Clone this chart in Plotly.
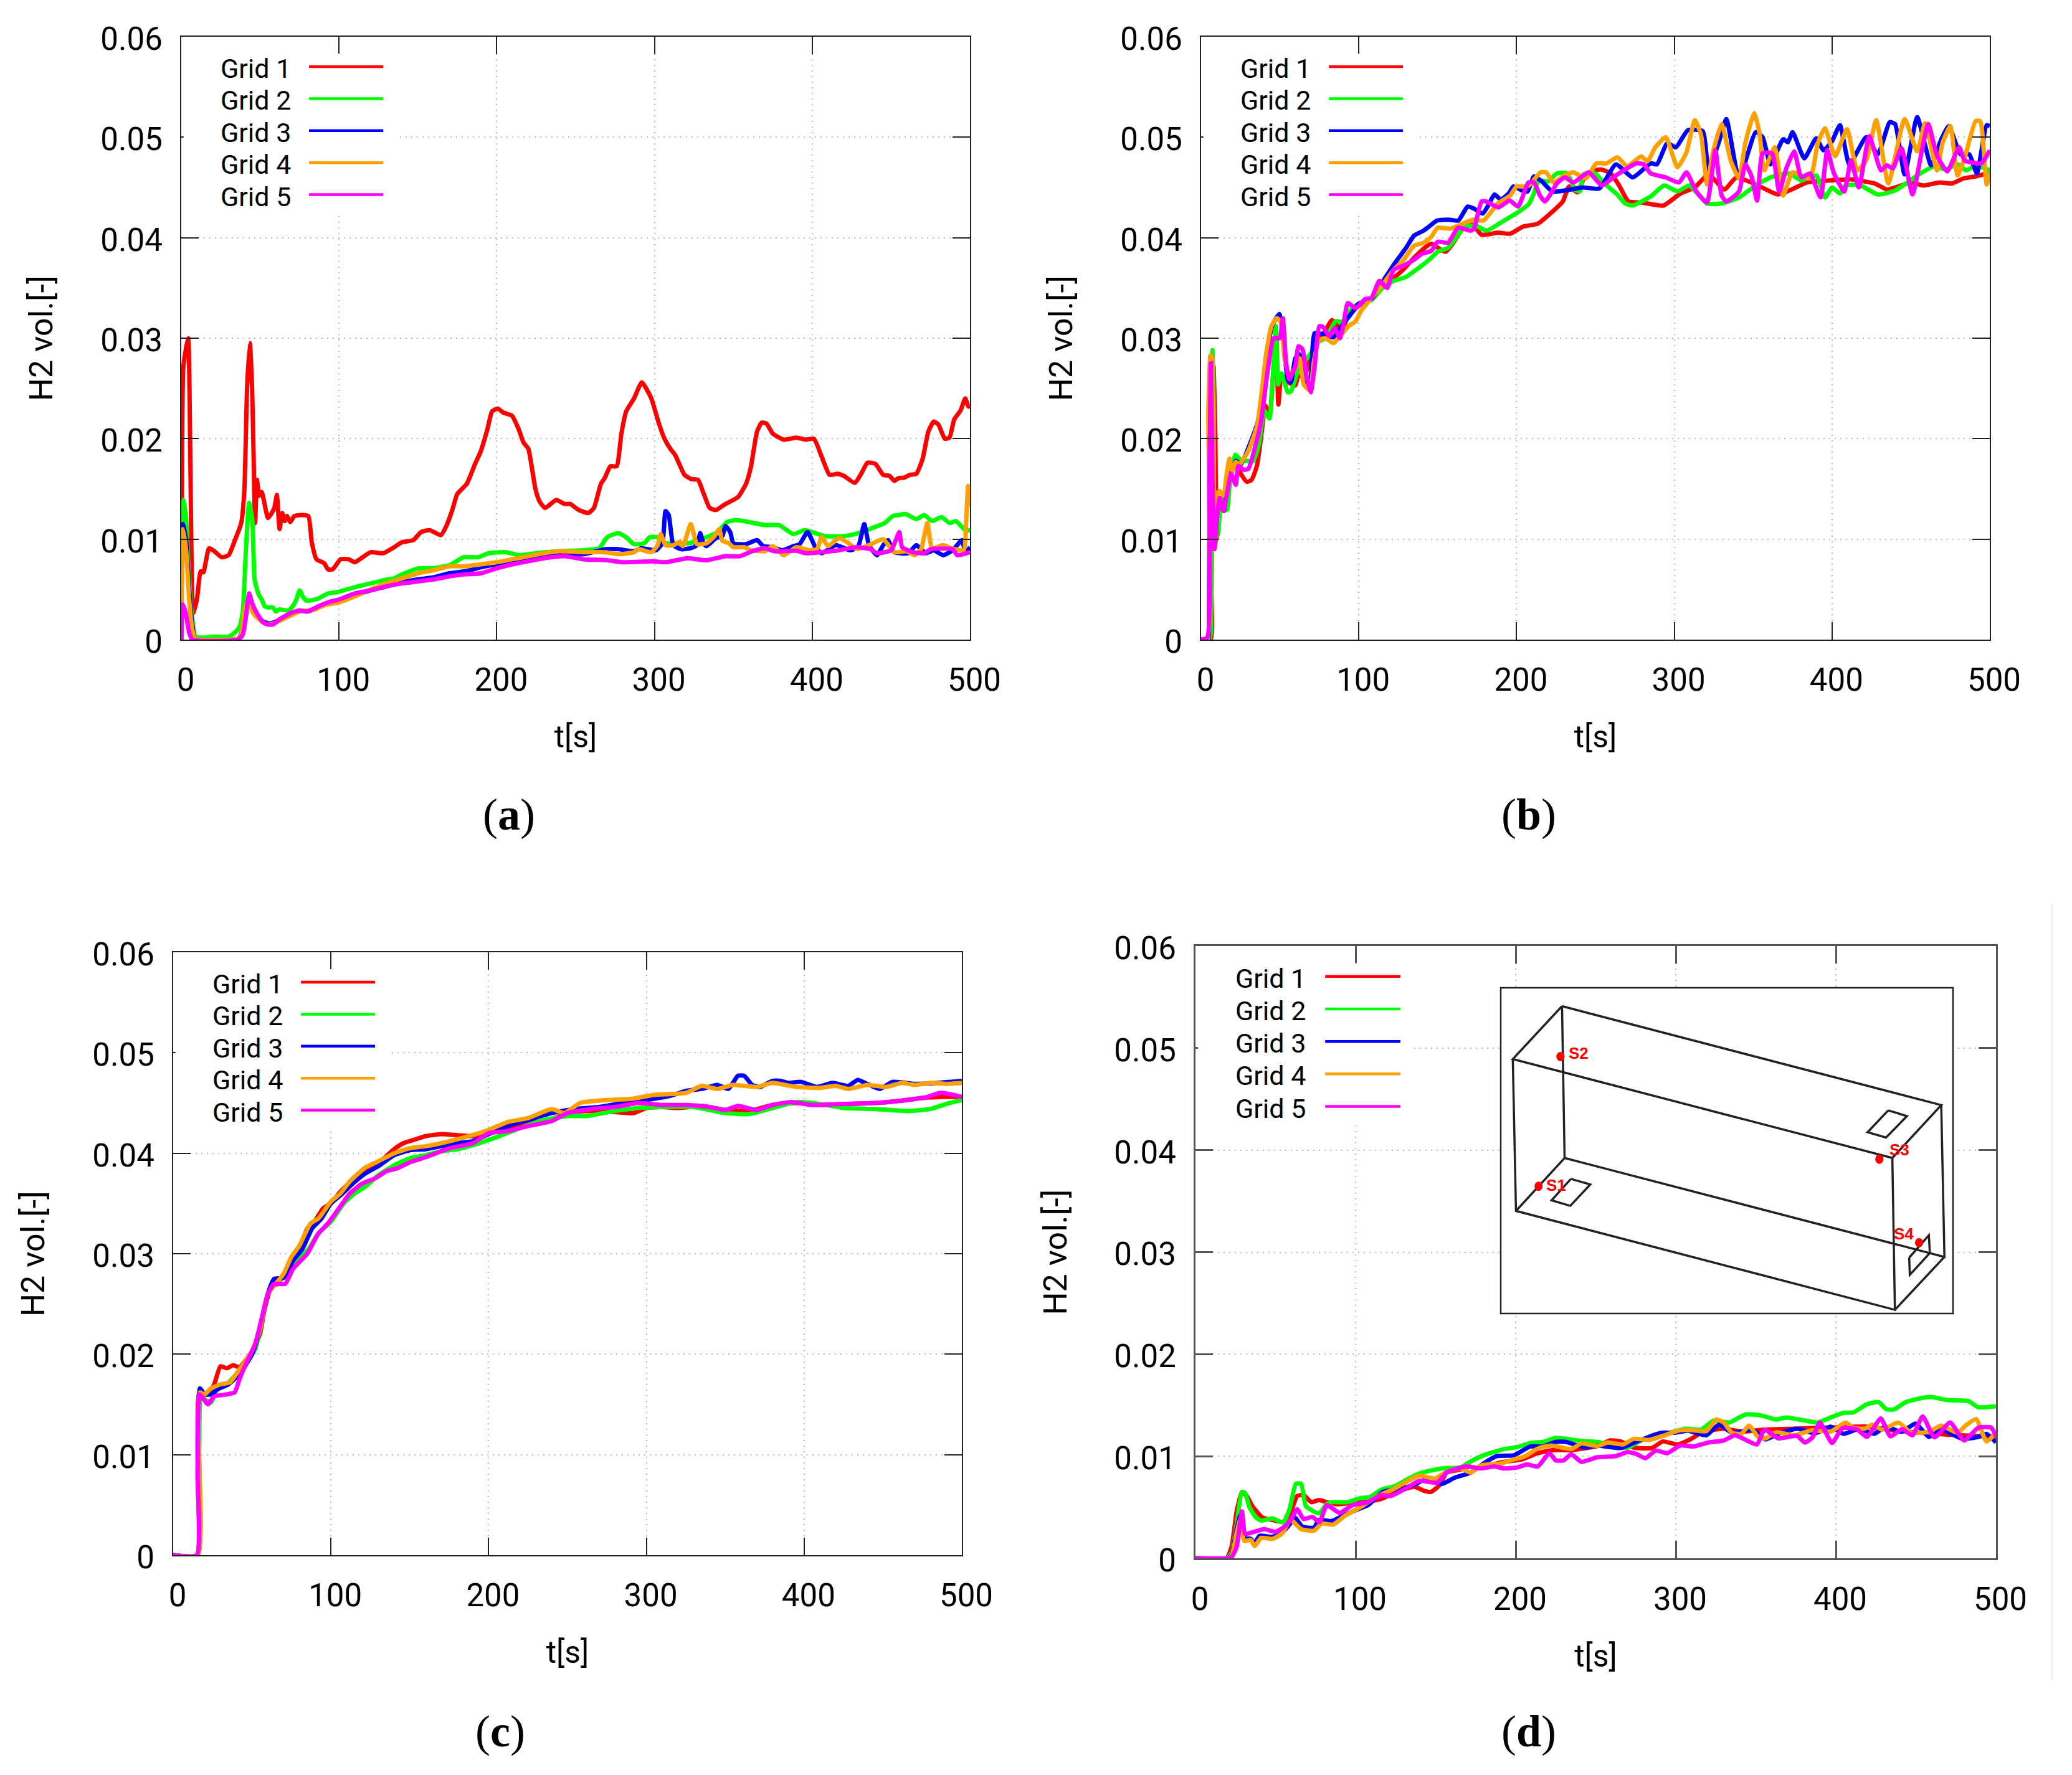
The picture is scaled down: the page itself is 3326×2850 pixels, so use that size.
import plotly.graph_objects as go

# H2 volume fraction, (t [s], vol * 1000)
a_grid1 = [(0,0),(0.4,14),(1.2,26.9),(3,29),(4.4,30),(5.2,25),(5.8,17),(7.6,2.6),(10,4.1),(12.3,6.8),(14,6.7),(17.6,9.1),(21,8.8),(25.5,8.2),(30,8.4),(34,9.9),(38,11.6),(40,14.9),(41.7,25),(43.5,29.5),(44.9,25),(45.8,18.6),(46.8,11.6),(48,15.9),(49.3,14.3),(51,14.7),(55,12.1),(59,13.1),(60.6,14.4),(62.3,11),(64,12.6),(65.5,11.8),(67,12.3),(69,11.7),(71.7,12.3),(75.7,12.4),(80.5,12.3),(82.7,9.7),(85.7,8),(90.6,7.6),(93,7),(96,7),(101,8),(106,8),(110,7.7),(115,8.2),(120,8.7),(128,8.6),(135,9.2),(140,9.7),(147,9.9),(152,10.7),(157.5,10.9),(164.6,10.4),(168,11.3),(171.6,12.8),(175,14.5),(181,15.5),(186,17.4),(190,18.8),(194,20.9),(197,22.7),(200.7,23),(204,22.6),(209.5,22.3),(214,20.9),(217,19.6),(220,19),(224.5,15),(227,13.8),(230.6,13.1),(237.7,13.9),(243,13.5),(246.5,13.5),(252,12.9),(258,12.6),(261.6,13.1),(266,15.5),(268.5,16.1),(272,17.25),(276,17.25),(279,20.5),(282,22.7),(287,24),(292,25.6),(298,24),(302.6,21.6),(306.3,20),(310,19),(313,18.4),(319,16.4),(323,16),(327.6,15.9),(331,14.6),(335,13.1),(339,12.9),(345,13.5),(353,14.2),(358,15.5),(361,17.1),(365,20.7),(368,21.6),(371,21.5),(375,20.5),(382,19.9),(390,20.1),(396,19.9),(401,20),(406,18.2),(411,16.4),(416,16.5),(420,16.3),(427,15.6),(431,16.5),(435,17.6),(440,17.5),(445,16.4),(449,16.3),(452,15.8),(455,16.1),(458,16.1),(462,16.4),(466,16.5),(470,18),(473.6,20.7),(477,21.7),(480,21.4),(484,20),(487,20.1),(490,21.9),(494,22.8),(497,24),(499,23.2),(500,23.2)]
a_grid2 = [(0,0),(1.5,13.9),(3,12),(5,6),(7,2),(9,0.3),(15,0.2),(20,0.3),(30,0.3),(34,0.7),(37,1.3),(39,2.8),(41,9),(43,13.6),(45,12),(46.5,6),(49,4.5),(51,4),(53,3.3),(55,3.2),(58,3.2),(60,2.8),(62,3),(68,2.9),(71,3.4),(73,4),(75,4.9),(77,4.3),(79,3.9),(82,3.9),(87,4.1),(93,4.6),(98,4.7),(105,5),(112,5.3),(120,5.6),(128,5.9),(135,6.1),(140,6.5),(150.5,7.1),(159,7.1),(170,7.4),(179,8.2),(188,8.2),(195,8.6),(206,8.7),(214,8.4),(225,8.6),(239,8.8),(255,8.9),(265,9.1),(270,10.2),(277,10.6),(282,10.2),(287,9.5),(293.5,9.6),(297,10.2),(302,10.2),(307,9.6),(322,9.6),(333,10.2),(340,10.7),(346,11.7),(352,11.9),(360,11.7),(370,11.4),(379,11.4),(388,10.5),(395,10.9),(402,10.6),(408,10.3),(420,10.3),(427,10.5),(438,11.1),(446,11.6),(451,12.3),(455,12.4),(459,12.5),(466,12),(471,12.4),(476,11.8),(482,12.2),(487,11.6),(491,11.8),(497,10.9),(500,10.9)]
a_grid3 = [(0,0),(1,11.5),(3,10),(5,5),(7,1.5),(9,0.1),(36,0.1),(38,0.6),(41,3),(43,4),(45,3),(48,2.4),(52,1.8),(56,1.6),(60,1.8),(68,2.4),(75,2.9),(80,2.8),(90,3.4),(100,3.9),(110,4.4),(120,4.9),(130,5.3),(140,5.7),(150,6),(160,6.2),(170,6.6),(180,6.8),(190,7.2),(200,7.5),(210,7.7),(220,8.1),(230,8.3),(240,8.4),(255,8.5),(269,9),(277,9),(287,8.8),(291.5,9.1),(301,8.9),(305,9.6),(307,12.8),(309,12.4),(312,9.4),(317,9),(323,9.1),(327,9.4),(329,10.6),(331,9.6),(333,9.3),(339,10.1),(343,10.3),(345,11.3),(348,10.7),(350,9.6),(358,9.5),(365,9.9),(369,9.3),(375,9.2),(381,8.9),(388,9.3),(392,9.5),(397,10.7),(402,9.2),(406,8.6),(415,9.4),(424,8.9),(429,9.2),(433,11.5),(436,9.4),(441,8.4),(445,9.4),(448,9.9),(452,8.7),(461,8.6),(466,9.4),(472,8.6),(477,8.9),(483,8.4),(489,8.9),(495,9.9),(497,8.7),(500,9.2)]
a_grid4 = [(0,0),(1,11),(3,9),(5,4),(7,1),(9,0.1),(36,0.1),(38,0.5),(41,3.5),(43,3.7),(45,2.8),(48,2.2),(52,1.7),(56,1.5),(60,1.7),(68,2.3),(75,2.8),(85,3),(90,3.4),(100,3.7),(110,4.3),(120,5),(130,5.6),(140,6.1),(150,6.6),(160,6.9),(170,7.3),(180,7.3),(190,7.5),(200,7.7),(210,8),(220,8.3),(230,8.6),(240,8.8),(255,8.7),(269,8.7),(277,8.5),(287,8.7),(290,9),(298,8.7),(302,9.4),(304,10.5),(307,9.4),(312,9.4),(316,9.75),(318,9.3),(323,11.5),(327,9.5),(333,9.6),(338,10.3),(341,11),(343,9.85),(347,9.6),(350,9.2),(357,9.2),(361,8.9),(370,8.8),(375,9.3),(382,8.4),(390,9.2),(398,8.9),(403,9),(406,10.2),(410,9.3),(417,10.1),(423,9.6),(428,9),(436,9.4),(445,10),(452,8.7),(460,8.8),(465,8.4),(469,9),(473,11.6),(476,9.1),(483,9.4),(488,9.1),(496,8.9),(497.5,11.5),(498.8,15.3),(500,13.2)]
a_grid5 = [(0,0),(1,3.5),(3,2.5),(5,0.7),(7,0),(36,0),(39,0.5),(41,2.3),(43,4.6),(45,3.6),(48,2.6),(52,1.7),(55,1.5),(58,1.5),(62,2),(70,2.7),(75,2.9),(80,2.8),(88,3.4),(95,3.8),(100,4),(110,4.6),(120,4.9),(130,5.3),(140,5.6),(150,5.8),(160,6),(170,6.3),(180,6.5),(190,6.6),(200,7.1),(210,7.5),(220,7.8),(230,8.1),(243,8.3),(255,8),(270,7.9),(280,7.7),(299,7.8),(307,7.7),(321,8.1),(333,7.9),(345,8.3),(354,8.3),(362,8.8),(370,9.1),(376,8.8),(390,8.85),(396,8.6),(417,8.9),(428,9.2),(437,9),(441,8.6),(450,8.9),(453,9.9),(455.2,10.7),(457,9.2),(464,8.7),(471,8.6),(475,9),(489,9),(492,8.4),(500,8.7)]

b_grid1 = [(0,0),(6,0),(6.6,5),(7.9,27.2),(9,20.6),(9.8,10),(11.2,13.9),(15.8,14.3),(18.4,16.4),(22,17.5),(25.6,16.4),(29,15.7),(32,15.9),(35.4,17.3),(38,20.1),(40.7,23.3),(43.3,22.1),(46,27.2),(47.6,30.5),(49,23.4),(51,26.3),(54.4,25.7),(59.7,25.3),(61.7,26.3),(65.6,26.1),(68.2,27.7),(73.5,29.6),(79,30.8),(83,31.8),(89,30.8),(93,32.1),(99.7,33.2),(108,34),(115,35.3),(122,36),(128,36.8),(135,38),(141,38.9),(146,39.4),(151,38.9),(155,38.6),(159,39.3),(166,40.9),(172,41.3),(177.8,40.3),(188.4,40.5),(196,40.4),(204,41.1),(213.5,41.4),(221.4,42.4),(229.3,43.6),(233.3,45.1),(238.6,44.5),(243.9,46.3),(253,46.8),(259.7,46.4),(265,45.2),(271,43.6),(279.5,43.5),(293,43.2),(304,44.4),(313,45),(321.7,46.3),(331.7,44.8),(339.4,46),(351.6,45.3),(365.6,44.3),(373,44.7),(384.3,45.5),(399,45.7),(412,45.8),(427,45.4),(434.8,44.8),(444,45.2),(449.7,45.5),(458,45.2),(468.4,45.5),(476,45.4),(483.4,45.9),(491,46.1),(500,46.5)]
b_grid2 = [(0,0),(5,0),(6,0.5),(7.2,28.8),(8,23),(8.5,12),(10.5,10.4),(13,13.9),(16.4,12.9),(18.4,16),(21.6,18.4),(25,17.9),(28,17.8),(33,17.8),(36.7,19.5),(40,22.8),(43.3,22),(45,25),(47.5,31.2),(48.8,25.4),(51,26.5),(55,24.6),(57,24.7),(60.4,26.3),(63,27.2),(67.6,28.1),(71,28.8),(73.5,29.6),(79,30),(85.3,31.7),(89.3,31.6),(93,32.5),(98.4,33.3),(108,33.8),(115,35),(122,35.7),(130,36.1),(138,37),(143,37.6),(146,38),(150,38.6),(156.6,39),(163,40.3),(167,41.1),(174,41.2),(181,40.7),(190,41.5),(201.6,42.6),(208,43.4),(211,44.4),(214,45.7),(220,45.6),(225.5,46.4),(232,46.4),(237,44.8),(240,44.6),(242.5,46.3),(249,46.5),(255.7,45.4),(263.7,44.3),(269,43.4),(273.6,43.2),(285,44.1),(293.6,45.2),(302,44.6),(309.5,45.2),(320.7,43.4),(330,43.4),(341,44),(351.6,45.2),(361,46),(372.6,46.4),(380.6,45.7),(390,46.2),(395.5,44),(400,45),(405,44.4),(408.6,45.2),(418,45.2),(429,44.3),(440,44.7),(455,46.3),(464.7,47.1),(472,46.8),(479.6,47.3),(485,46.7),(491,47.2),(500,46.7)]
b_grid3 = [(0,0),(4.5,0),(5,2),(6,28.3),(8,12),(9,9.5),(11,14),(14.4,12.8),(16.4,15),(19,16.5),(22,17.8),(25,17.4),(31.5,19.7),(36,21.7),(39,24.5),(42,28.7),(45.2,31.3),(49.6,32.4),(52.5,29.4),(55,25.8),(57,25.6),(59.7,28),(62.3,28.4),(65.6,26.3),(69,25),(72,30.5),(77.4,30.4),(84,30.1),(89,31.2),(94.5,32.3),(99.7,33.4),(108,33.9),(115,35.6),(123,37.5),(130,39),(135,40.2),(141,40.7),(146,41.3),(149.5,41.7),(157.3,41.8),(163,41.7),(169,43.1),(173,42.9),(178.5,42.4),(182,43.2),(186,44.3),(190,43.8),(195,44.4),(198,45.1),(203.6,44.7),(207,44.6),(211,46.1),(216,45.6),(222.7,44.6),(230.6,44.7),(242,45),(252.5,44.9),(263,47.3),(273.6,46),(285,47.4),(289,47.3),(295.5,49.4),(301,49),(308.6,50.7),(318,50.6),(321.7,46.7),(328,49.4),(333,51.8),(341,45.9),(351.6,50.5),(356,50),(361,47.3),(369,49.8),(372,49.5),(375,50.5),(382.4,47.9),(390,49.9),(394.6,48.7),(400,49.6),(405,51.2),(411,47.3),(421.7,50),(429,48.3),(436.6,51.5),(440,51.3),(446,46.3),(454,52),(462.8,47.2),(469,49.7),(474,51.1),(481.5,48.3),(487,48.3),(491.8,46.4),(498,51.2),(500,51.1)]
b_grid4 = [(0,0),(4,0),(4.6,23),(6,28.3),(7,28),(8,11.7),(9,9.3),(10.5,14.6),(11.8,14.8),(14.4,14.3),(15.8,16),(18,18),(19.7,16.8),(22,17.7),(24.3,17.4),(27,18),(30,18.8),(35.4,21.2),(38,24.1),(41.3,28.5),(44.6,31.2),(48,32),(50.5,31.6),(53,27.9),(55.8,26.5),(59,26.8),(62.4,28),(65,25.4),(69,24.8),(71.5,27.7),(74.8,29.8),(78.8,30),(84,29.5),(88,30.2),(93.5,31.2),(98,31.7),(101.4,32.7),(108,34),(115,35.3),(122,36.8),(128,37.7),(135,39.2),(141,39.5),(146,40.1),(150,41),(158,40.9),(166,41.4),(172.5,41.8),(179,41.7),(184,42.6),(188,43.4),(196,44.2),(200,45.1),(204,45.1),(208,45.2),(215,46.5),(218.8,46.5),(223.4,45.5),(230.6,46.2),(236,46.5),(244,45.9),(250.5,47.4),(257,47.4),(264,48),(270,47.1),(279,48.1),(283,47.6),(288,49),(294.6,50),(302,47),(307.7,48.5),(313,51.7),(317,50.2),(320.7,45.3),(324.5,48.5),(330,51.3),(335.7,47.7),(341,45.9),(345,49.4),(350.7,52.4),(354,50.4),(357,46.7),(363.7,49),(369,44.2),(375,46.5),(386,45.9),(391,49.4),(395.5,50.9),(402,48.1),(409.5,50.8),(416,46.7),(421.7,47.7),(428,51.7),(435.7,45.4),(446,51.8),(454,48.6),(459,51.4),(466.5,46.7),(470,49.4),(475,51.1),(479.6,46.2),(484,47.9),(491,51.6),(494,51.6),(498,45.3),(500,46.5)]
b_grid5 = [(0,0),(3.9,0.2),(5.3,16),(6.2,27.5),(7.2,16),(8.5,9),(9.8,11.7),(11.8,14.1),(14.2,12.8),(17,15),(19,16.5),(22,15.4),(23.6,17.3),(27,16.9),(30,17),(34.8,19.5),(38,21.7),(42,26.5),(46,30),(49.8,30),(51.8,32),(53.8,27.7),(55.8,25.9),(59.7,27.2),(61.7,29.2),(64.3,28.9),(67,26.1),(69.5,24.6),(72,27.2),(75,31.2),(77.4,31.1),(81.3,30.2),(84.6,31),(88,30),(90.5,31.6),(93,33.5),(98,33),(104,33.9),(108,34),(113,35.7),(118,35),(122,36.8),(128,37.2),(135,37.8),(140,38.4),(146,38.7),(150,39.6),(156.6,39.5),(163,41),(171,40.7),(173,40.9),(177.8,43.6),(181,43.6),(188.4,43),(195.6,43.7),(201,43.1),(207.5,45.5),(211,45.5),(214.8,44.2),(218,43.6),(221.4,44.3),(225.5,45.4),(230.6,46),(236,45.5),(245.7,46.5),(254,45.2),(263,46.2),(276,47.4),(280.6,47.3),(285,46.4),(294.6,46),(303,45.5),(307.7,46.5),(314,44.6),(320.7,43.5),(326,48.7),(330,44.2),(333,43.6),(341,44.6),(345,47.3),(349,46.1),(352.5,43.7),(356,48.4),(361.9,48.4),(366.5,44.6),(371,46.9),(376,48.6),(380.6,46),(386,46.4),(392.7,44),(397,48.7),(401,46.5),(407.7,44.6),(412,47.7),(417,45),(423.6,50.1),(431,46.7),(434.8,47.2),(438.5,46.9),(444,48.9),(451,44.3),(457,48.7),(461,51.3),(466.5,48.2),(473,46.6),(480.6,49),(484,47.7),(494.6,47.4),(500,48.7)]

c_grid1 = [(0,0),(15,0),(15.5,8),(16.5,16.2),(19,16),(22,16),(26,17),(30,18.8),(34,18.6),(38,18.9),(42,18.7),(46,19.4),(50,20.3),(55,22),(58,24.5),(62,26.6),(66,27),(70,27.9),(75,29.5),(80,30.6),(85,32.5),(90,33.3),(95,34.5),(100,35),(105,36),(110,36.8),(115,37.6),(122,38.2),(128,38.7),(135,39.7),(140,40.4),(146,41),(152,41.3),(160,41.7),(170,41.9),(180,41.8),(190,41.7),(200,42),(210,42.5),(220,42.9),(230,43.1),(240,43.4),(250,44),(260,44.2),(270,44.2),(280,44.1),(292,44),(300,44.5),(310,44.6),(320,44.5),(335,44.7),(350,44.3),(365,44.2),(380,44.8),(395,45),(410,44.8),(425,44.9),(445,45),(460,45.2),(475,45.5),(490,45.6),(500,45.6)]
c_grid2 = [(0,0),(15.5,0),(16.5,10),(17.5,16),(20,15.5),(24,15.2),(28,16.5),(34,17),(40,18),(46,19),(52,20.5),(56,23),(60,26),(65,27),(72,28),(80,29.5),(86,30.5),(92,32),(100,33.2),(108,35),(115,36),(122,36.7),(130,37.8),(140,38.8),(150,39.5),(160,39.8),(170,40.2),(180,40.4),(190,40.8),(205,41.6),(220,42.5),(235,43.3),(250,43.7),(262,43.7),(280,44.2),(295,44.5),(310,44.6),(330,44.6),(350,44),(365,43.9),(380,44.5),(395,45.1),(410,44.9),(425,44.5),(445,44.4),(465,44.2),(480,44.4),(490,44.9),(500,45.3)]
c_grid3 = [(0,0),(15.5,0),(16,10),(17,16.6),(20,16),(24,16),(28,16.5),(35,17),(42,18),(50,20),(55,22.5),(60,26),(64,27.5),(70,27.6),(76,29.3),(82,30.5),(88,32.5),(94,33.5),(100,35),(106,35.8),(114,37),(122,38),(130,38.7),(140,39.8),(150,40.3),(160,40.4),(170,40.7),(180,41),(190,41.2),(200,41.9),(212,42.7),(225,43.3),(240,44),(255,44.4),(270,44.6),(285,45),(300,45.3),(315,45.7),(325,46.2),(335,46.4),(345,46.8),(352,46.4),(358,47.7),(362,47.7),(367,46.8),(372,46.6),(380,47.2),(385,47.2),(390,47),(398,47.1),(408,46.6),(418,47),(428,46.7),(434,47.3),(440,46.9),(448,46.4),(456,47.1),(470,46.9),(485,47),(500,47.2)]
c_grid4 = [(0,0),(15.5,0),(16,12),(17,16.2),(20,16),(24,16.6),(30,17),(36,17.2),(42,18.5),(50,20.3),(55,22.5),(60,26),(65,27),(70,28),(75,29.7),(80,30.8),(87,33),(92,33.5),(100,35.2),(106,36),(112,37.2),(122,38.6),(130,39.2),(140,40),(150,40.5),(160,40.7),(170,41),(185,41.6),(198,42.2),(212,43.1),(225,43.5),(240,44.4),(248,44),(258,45),(275,45.3),(290,45.4),(305,45.8),(325,46),(335,46.7),(345,46.4),(355,46.8),(370,46.6),(380,47),(395,46.6),(410,46.5),(420,46.7),(428,46.4),(440,46.8),(452,46.6),(462,47),(470,46.8),(480,47),(490,46.9),(500,47)]
c_grid5 = [(0,0),(15,0),(15.5,8),(16.5,16),(19,15.6),(22,15),(26,15.8),(34,16),(39,16.2),(42,17.5),(46,19),(52,21),(56,23.5),(60,26),(64,27),(71,27),(76,28.5),(85,30),(92,32),(98,33),(105,34.5),(112,36),(120,37),(128,37.5),(135,38.2),(142,38.5),(150,39.1),(158,39.5),(165,39.9),(175,40.5),(190,41),(200,42),(212,42.2),(225,42.7),(240,43.2),(250,44),(265,44.4),(280,44.6),(295,45),(310,44.8),(325,44.8),(340,44.6),(350,44.3),(358,44.7),(370,44.3),(380,44.8),(392,45.1),(405,44.8),(425,44.9),(445,45),(465,45.3),(478,45.6),(486,46),(495,45.8),(500,45.6)]

d_grid1 = [(0,0),(19.3,0),(22.5,1.1),(25.7,4.6),(29,6.5),(32,6.1),(36,5),(41.8,4),(48,3.75),(54.7,3.55),(58.7,4.2),(63.5,6.1),(67.5,6.2),(72.3,5.5),(77,5.7),(82,5.5),(88.4,5.3),(96.5,5.4),(104.5,5.5),(115.8,5.8),(125.4,6.5),(136.7,7),(143,6.6),(147,6.5),(152.7,7.2),(156.8,8.4),(165.6,8.7),(171,9),(175,8.8),(191,9.4),(204,9.7),(213.8,10.3),(223.5,10.6),(234.7,10.6),(251,11),(259,11.55),(265.5,11.45),(273.6,10.85),(284.9,10.8),(292,11.45),(301,11.15),(309,11.65),(317,12.4),(330,12.7),(341.6,12.4),(354.6,12.6),(374,12.7),(393.5,12.8),(419.4,12.9),(437,12.5),(461.6,12.2),(477.8,12.05),(500,11.9)]
d_grid2 = [(0,0),(19.3,0),(22.5,0.5),(25.7,3.3),(29,6.5),(31,6.4),(33.7,5),(37.8,4),(41,3.7),(48,3.9),(54.7,3.5),(58.7,4.8),(62.7,7.3),(66,7.3),(69,5.1),(77,4.4),(82,5.3),(85,5.5),(95,5.5),(103,5.9),(109,6),(115.8,6.7),(125,7.1),(133,7.8),(141.5,8.4),(154,8.8),(165.6,8.9),(172,9.5),(181.7,10.2),(193,10.7),(201,10.9),(209,11.3),(217,11.4),(225,11.8),(231.5,11.7),(241,11.5),(251,11.4),(260.6,11),(270,10.85),(277.6,11.5),(286.6,12.1),(296,12.3),(306,12.7),(315.7,12.6),(323.8,13.5),(333.5,13.3),(338.4,13.7),(344,14.1),(353,14),(362.7,13.6),(369,13.8),(380.6,13.5),(388.6,13.3),(396.7,13.8),(404.8,14.25),(411,14.3),(419.4,15.1),(426.7,15.3),(431.5,14.6),(436.4,14.6),(443.7,15.3),(453.4,15.7),(460,15.8),(469.7,15.5),(482.7,15.4),(489,14.8),(500,14.9)]
d_grid3 = [(0,0),(20,0),(22.5,0.3),(25.7,2.9),(28,4.2),(30.5,2),(34.5,1.9),(37,1.5),(40,2.2),(48,2.1),(53.9,2.5),(58.7,3.3),(62,4),(66.7,3.1),(74,3),(77,3.75),(85,3.65),(90,4),(99.7,4.7),(107.7,5.2),(117,6.5),(127,6.8),(136.7,7.2),(143,7.7),(154,7.3),(162,7.9),(172,8.4),(180,9.3),(188,10),(199,10.1),(209,10.95),(217,10.95),(225,11.4),(231.5,11.4),(243,10.85),(251,11.05),(265.5,10.8),(275,11.4),(291,12.3),(299.5,12.3),(307.6,12.5),(319,12.05),(327,13.1),(335,12.3),(348,12.6),(356,11.65),(364,12.2),(375.7,12.7),(387,12.25),(396.7,12.9),(404.8,12.2),(414.6,12.7),(424,12.2),(431,12.9),(441,12.4),(449.8,13.2),(458,11.9),(466,12.6),(479,11.7),(489,11.9),(494,12.2),(500,11.35)]
d_grid4 = [(0,0),(20,0),(22.5,0.2),(25.7,2.5),(28,3.8),(30.5,1.7),(34.5,1.8),(37,1.2),(41,2),(48,1.9),(53.9,2.4),(59.5,3.75),(66,2.85),(74,2.7),(78.8,3.4),(86,3.3),(93.2,4.15),(103,5),(114,6.1),(124,6.8),(133,7.6),(140,8.1),(149.5,7.8),(156,8.4),(165.6,8.8),(172,8.4),(178.5,9.1),(191,9.3),(199,9.7),(205.8,10),(213.8,10.75),(222,11.05),(234.7,10.7),(241,11.25),(251,11),(257.5,11.35),(267,11.15),(273.6,11.7),(283.4,11.6),(293,12.05),(302.8,12.55),(310.9,12.55),(319,12.45),(325.4,13.6),(330,13.3),(335,12.3),(341,12.2),(345.7,13),(351.4,11.9),(356,11.75),(362.7,12.35),(374,12.05),(385,12.55),(396.7,12.4),(406,13.3),(410.6,12.8),(418,12.7),(422.7,13.1),(429,12.6),(439,13.3),(447,12.3),(458.3,12.4),(465.7,13),(476,12.3),(481,13),(487.6,13.65),(494,11.45),(500,12.3)]
d_grid5 = [(0,0),(20,0),(22.5,0.1),(25.7,1.1),(29,4.6),(31,2.4),(34.5,2.5),(43,2.85),(50,2.6),(56,3.15),(60,3.9),(63.5,4.8),(67.5,3.85),(73,4.05),(77.5,3.55),(82,5.2),(90,4.45),(98,5.2),(107.7,5.5),(115.8,6.2),(122,6.1),(132,6.9),(140,7.6),(151,7.4),(156.8,8.4),(168.8,9),(178.5,8.8),(186.5,9),(193,8.8),(201,8.9),(207,9.2),(213.8,9),(221,10.3),(225,9.6),(230,9.6),(234.7,10.2),(241,9.45),(251,9.9),(262,10),(270,10.4),(275,10.25),(281,9.8),(287.4,10.55),(294.7,10.3),(302.8,11.05),(310.9,10.95),(320.6,11.35),(330,11.55),(337,12.05),(343,11.65),(350.6,11.15),(355.5,12.6),(364,11.75),(375.7,12),(380.6,11.35),(385.4,11.85),(390,13.3),(397.6,11.3),(404,12.75),(413,12.65),(419.4,11.9),(428,13.7),(434,11.95),(441.3,12.65),(447.8,12.05),(454.2,13.9),(461.6,11.85),(471.3,13.3),(480,11.55),(489,12.8),(497,12.8),(500,11.95)]

series_names = ["Grid 1", "Grid 2", "Grid 3", "Grid 4", "Grid 5"]
series_colors = ["#ff0000", "#00ff00", "#0000ff", "#ffa000", "#ff00ff"]
panel_a = [a_grid1, a_grid2, a_grid3, a_grid4, a_grid5]
panel_b = [b_grid1, b_grid2, b_grid3, b_grid4, b_grid5]
panel_c = [c_grid1, c_grid2, c_grid3, c_grid4, c_grid5]
panel_d = [d_grid1, d_grid2, d_grid3, d_grid4, d_grid5]
panels = [panel_a, panel_b, panel_c, panel_d]
captions = ["a", "b", "c", "d"]

x_ticks = [0, 100, 200, 300, 400, 500]
y_ticks = [0, 0.01, 0.02, 0.03, 0.04, 0.05, 0.06]
y_labels = ["0", "0.01", "0.02", "0.03", "0.04", "0.05", "0.06"]

# sketch of the box in panel d, in the sketch's own pixel frame (1424 x 1416)
box_lines = [
    [(193,80),(1387,510),(1233,740),(38,310),(193,80)],
    [(38,310),(48,970),(1241,1400),(1233,740)],
    [(193,80),(201,740),(1397,1170),(1387,510)],
    [(48,970),(201,740)],
    [(1241,1400),(1397,1170)],
    [(1220,533),(1279,558),(1213,651),(1155,628),(1220,533)],
    [(221,831),(282,855),(219,948),(160,924),(221,831)],
    [(1286,1173),(1348,1076),(1351,1153),(1288,1248),(1286,1173)],
]
probe_names = ["S1", "S2", "S3", "S4"]
probe_points = [(119,863), (188,299), (1192,745), (1317,1108)]
label_points = [(175,858), (245,283), (1255,705), (1270,1070)]

PAGE_W, PAGE_H = 3326, 2850
MARGIN = 8  # body margin of the page
FIG_W, FIG_H = PAGE_W - 2 * MARGIN, PAGE_H - 2 * MARGIN


def px(x):
    return (x - MARGIN) / FIG_W


def py(y):
    return 1 - (y - MARGIN) / FIG_H


# plot frames in page pixels: left, right, top, bottom
frames = [(291, 1557, 59, 1027), (1928, 3194, 59, 1027),
          (278, 1544, 1529, 2497), (1919, 3204, 1519, 2502)]
caption_pos = [(817, 1308), (2454, 1308), (803, 2780), (2454, 2780)]
inset = (2409, 3135, 1586, 2109)

fig = go.Figure()
shapes = []
annotations = []

for i, panel in enumerate(panels):
    n = "" if i == 0 else str(i + 1)
    left, right, top, bottom = frames[i]
    for name, color, points in zip(series_names, series_colors, panel):
        fig.add_trace(go.Scatter(x=[p[0] for p in points],
                                 y=[p[1] / 1000 for p in points],
                                 mode="lines", name=name,
                                 line=dict(color=color, width=7, shape="spline", smoothing=0.5),
                                 xaxis="x" + n, yaxis="y" + n,
                                 showlegend=False))

    axis_color = "#555555" if i == 3 else "#222222"
    axis_width = 3 if i == 3 else 2
    common = dict(showline=True, mirror="ticks", ticks="inside", ticklen=28,
                  tickwidth=axis_width, tickcolor=axis_color,
                  linecolor=axis_color, linewidth=axis_width,
                  showgrid=True, gridcolor="#bbbbbb", gridwidth=2, griddash="2px,7px",
                  zeroline=False, automargin=False,
                  tickfont=dict(family="Roboto", size=51, color="black"))
    fig.update_layout({
        "xaxis" + n: dict(common, domain=[px(left), px(right)], range=[0, 500],
                          tickvals=x_ticks, ticklabelshift=7, ticklabelstandoff=19,
                          anchor="y" + n,
                          title=dict(text="t[s]", standoff=45,
                                     font=dict(family="Roboto", size=50, color="black"))),
        "yaxis" + n: dict(common, domain=[py(bottom), py(top)], range=[0, 0.06],
                          tickvals=y_ticks, ticktext=y_labels, ticklabelshift=3,
                          ticklabelstandoff=18, anchor="x" + n,
                          title=dict(text="H2 vol.[-]", standoff=60,
                                     font=dict(family="Roboto", size=52, color="black"))),
    })

    # gnuplot style key: opaque box, text then sample line
    xd, yd = "x" + n + " domain", "y" + n + " domain"
    shapes.append(dict(type="rect", xref=xd, yref=yd, x0=0.003, x1=0.273, y0=0.71, y1=0.972,
                       fillcolor="white", line=dict(width=0), layer="above"))
    for k, (name, color) in enumerate(zip(series_names, series_colors)):
        y_line = 1 - (48 + 51.4 * k) / 968
        shapes.append(dict(type="line", xref=xd, yref=yd, x0=0.162, x1=0.256,
                           y0=y_line, y1=y_line, layer="above",
                           line=dict(color=color, width=4.5)))
        annotations.append(dict(xref=xd, yref=yd, x=0.048, y=y_line - 3 / 968,
                                text=name, showarrow=False, xanchor="left", yanchor="middle",
                                font=dict(family="Roboto", size=43, color="black")))

    annotations.append(dict(xref="paper", yref="paper", x=px(caption_pos[i][0]), y=py(caption_pos[i][1]),
                            text="(<b>" + captions[i] + "</b>)", showarrow=False,
                            xanchor="center", yanchor="middle",
                            font=dict(family="Liberation Serif", size=72, color="black")))

# inset sketch over panel d
ix0, ix1, iy0, iy1 = inset
sx = (ix1 - ix0) / 1424
sy = (iy1 - iy0) / 1416


def sketch_x(x):
    return px(ix0 + x * sx)


def sketch_y(y):
    return py(iy0 + y * sy)


shapes.append(dict(type="rect", xref="paper", yref="paper", x0=px(ix0), x1=px(ix1), y0=py(iy1), y1=py(iy0),
                   fillcolor="white", line=dict(color="#222222", width=2.5), layer="above"))
for edge in box_lines:
    path = "M " + " L ".join(f"{sketch_x(x):.5f},{sketch_y(y):.5f}" for x, y in edge)
    shapes.append(dict(type="path", xref="paper", yref="paper", path=path, layer="above",
                       line=dict(color="#222222", width=3.5)))
for name, (x, y), (lx, ly) in zip(probe_names, probe_points, label_points):
    rx, ry = 6.5 / FIG_W, 7.5 / FIG_H
    shapes.append(dict(type="circle", xref="paper", yref="paper", layer="above",
                       x0=sketch_x(x) - rx, x1=sketch_x(x) + rx, y0=sketch_y(y) - ry, y1=sketch_y(y) + ry,
                       fillcolor="#ff0000", line=dict(width=0)))
    annotations.append(dict(xref="paper", yref="paper", x=sketch_x(lx), y=sketch_y(ly), text="<b>" + name + "</b>",
                            showarrow=False, xanchor="center", yanchor="middle",
                            font=dict(family="Liberation Sans", size=26, color="#ff0000")))

# faint scan edge right of panel d
shapes.append(dict(type="line", xref="paper", yref="paper", x0=px(3294), x1=px(3294), y0=py(2697), y1=py(1452),
                   line=dict(color="#ececec", width=2), layer="below"))

fig.update_layout(width=FIG_W, height=FIG_H, margin=dict(l=0, r=0, t=0, b=0),
                  paper_bgcolor="white", plot_bgcolor="white",
                  showlegend=False, shapes=shapes, annotations=annotations)

fig.write_html("out.html")
